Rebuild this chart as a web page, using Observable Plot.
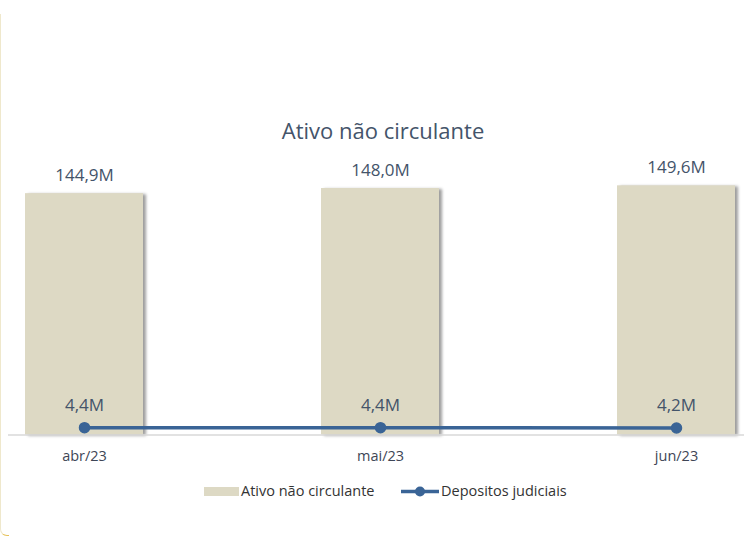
<!DOCTYPE html>
<html>
<head>
<meta charset="utf-8">
<script src="https://cdn.jsdelivr.net/npm/d3@7"></script>
<script src="https://cdn.jsdelivr.net/npm/@observablehq/plot@0.6"></script>
<style>
  html, body { margin: 0; padding: 0; background: #fff; }
  #wrap { position: relative; width: 744px; height: 541px; overflow: hidden; font-family: "Open Sans", sans-serif; }
  #title { position: absolute; left: 0; width: 766px; top: 119px; text-align: center; font-size: 22px; line-height: 22px; color: #44546A; }
  #legend { position: absolute; top: 484px; left: 0; width: 744px; height: 20px; font-size: 14.5px; line-height: 14.5px; color: #333; }
  .lg { position: absolute; white-space: nowrap; }
  #edge { position: absolute; left: 0; top: 14px; width: 8px; height: 521px; border-left: 1px solid #eee6c8; border-bottom: 1px solid #e8c866; border-bottom-left-radius: 7px; border-color: #efe8cc #fff #e6c25a #efe8cc; }
  g[aria-label="bar"] rect { filter: drop-shadow(3px 1px 1.5px rgba(0,0,0,0.38)); }
</style>
</head>
<body>
<div id="wrap">
  <div id="edge"></div>
  <div id="title">Ativo não circulante</div>
  <div id="chart"></div>
  <div id="legend"></div>
</div>
<script>
const months = ["abr/23", "mai/23", "jun/23"];
const ativo = [144.9, 148.0, 149.6];
const depositos = [4.4, 4.4, 4.2];
const ativoLabels = ["144,9M", "148,0M", "149,6M"];
const depositosLabels = ["4,4M", "4,4M", "4,2M"];
const seriesNames = ["Ativo não circulante", "Depositos judiciais"];

const barColor = "#DDD9C4";
const lineColor = "#3A6496";
const labelColor = "#44546A";

const bars = months.map((m, i) => ({month: m, value: ativo[i], label: ativoLabels[i]}));
const pts = months.map((m, i) => ({month: m, value: depositos[i], label: depositosLabels[i]}));

const chart = Plot.plot({
  width: 744,
  height: 541,
  marginLeft: 8,
  marginRight: 0,
  marginTop: 168,
  marginBottom: 106.5,
  style: {fontFamily: "Open Sans, sans-serif", background: "transparent", overflow: "visible"},
  x: {domain: months, paddingInner: 0.6, paddingOuter: 0.0432, align: 0.664, label: null},
  y: {domain: [0, 160], axis: null},
  marks: [
    Plot.barY(bars, {x: "month", y: "value", fill: barColor}),
    Plot.ruleY([0], {stroke: "#D9D9D9", strokeWidth: 1.3}),
    Plot.text(bars, {x: "month", y: "value", text: "label", dy: -18, fontSize: 17, fill: labelColor}),
    Plot.line(pts, {x: "month", y: "value", stroke: lineColor, strokeWidth: 3.5}),
    Plot.dot(pts, {x: "month", y: "value", r: 5, fill: lineColor, stroke: lineColor}),
    Plot.text(pts, {x: "month", y: "value", text: "label", dy: -22, fontSize: 17, fill: labelColor}),
    Plot.axisX({tickSize: 0, tickPadding: 16, fontSize: 14.5, color: "#3E4656", label: null})
  ]
});
document.getElementById("chart").appendChild(chart);

const lg = document.getElementById("legend");
lg.innerHTML = `
  <div class="lg" style="left:204px; top:3px; width:35px; height:9px; background:${barColor}"></div>
  <div class="lg" style="left:241px; top:0px;">${seriesNames[0]}</div>
  <svg class="lg" style="left:400px; top:0px;" width="40" height="16">
    <line x1="1" x2="39" y1="7.5" y2="7.5" stroke="${lineColor}" stroke-width="3.5"/>
    <circle cx="20" cy="7.5" r="5" fill="${lineColor}"/>
  </svg>
  <div class="lg" style="left:441px; top:0px;">${seriesNames[1]}</div>
`;
</script>
</body>
</html>
